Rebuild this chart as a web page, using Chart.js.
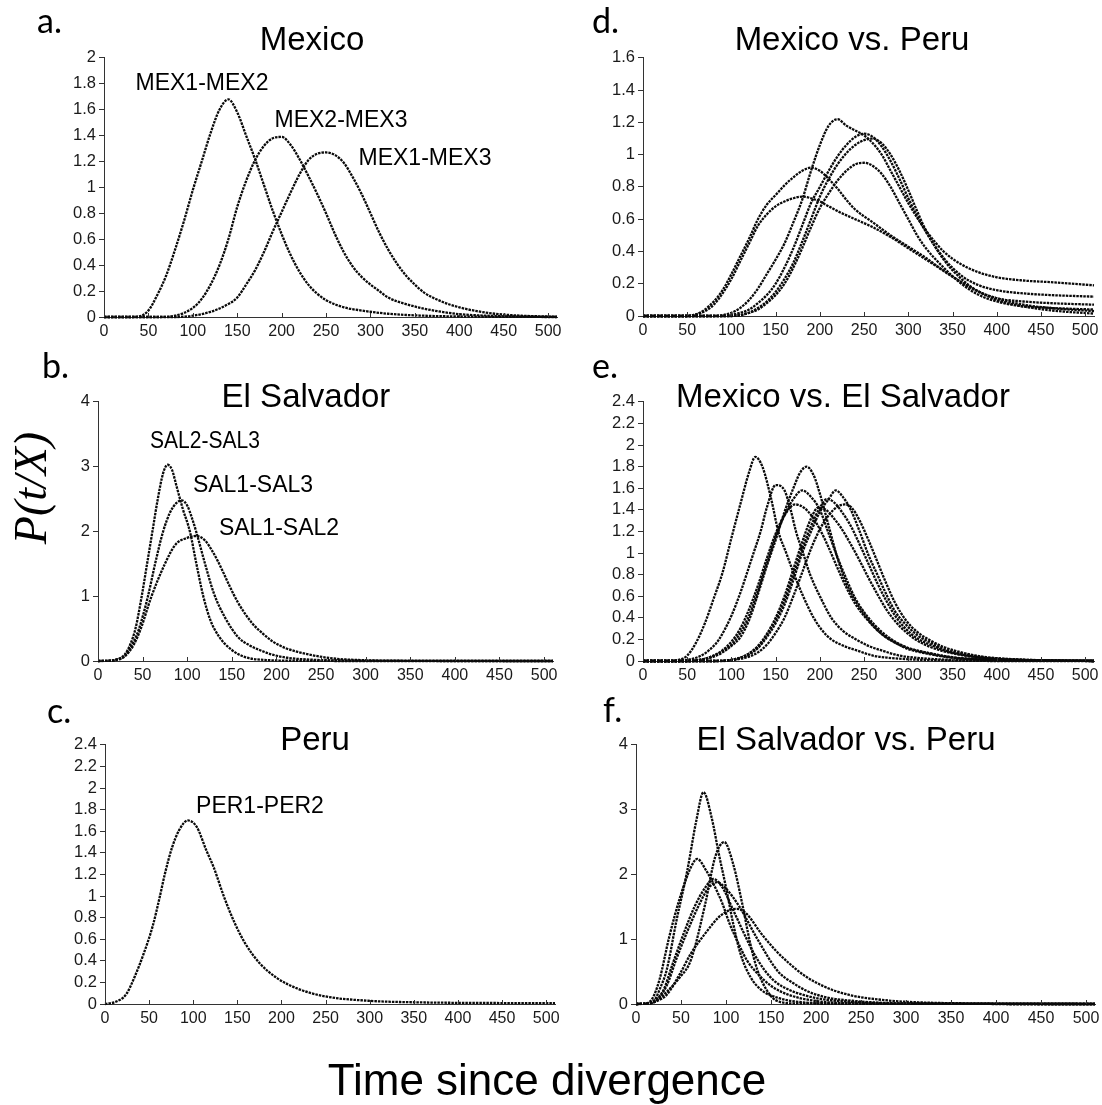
<!DOCTYPE html>
<html>
<head>
<meta charset="utf-8">
<script src="https://cdn.jsdelivr.net/npm/chart.js@4.4.1/dist/chart.umd.min.js"></script>
<style>
  html, body { margin: 0; padding: 0; background: #fff; }
  #fig { position: relative; width: 1102px; height: 1105px; overflow: hidden; background: #fff; }
  #fig canvas { position: absolute; }
  #txt { position: absolute; left: 0; top: 0; }
</style>
</head>
<body>
<div id="fig">
  <canvas id="pa"></canvas>
  <canvas id="pb"></canvas>
  <canvas id="pc"></canvas>
  <canvas id="pd"></canvas>
  <canvas id="pe"></canvas>
  <canvas id="pf"></canvas>
  <svg id="txt" width="1102" height="1105" font-family="'Liberation Sans', Arial, sans-serif" fill="#000">
    <g font-family="Lato, 'Open Sans', sans-serif" font-size="34">
      <text x="37" y="33">a.</text>
      <text x="42" y="378">b.</text>
      <text x="47" y="723">c.</text>
      <text x="592" y="33">d.</text>
      <text x="592" y="378">e.</text>
      <text x="603" y="722">f.</text>
    </g>
    <g font-size="33" text-anchor="middle">
      <text x="312" y="50">Mexico</text>
      <text x="306" y="407">El Salvador</text>
      <text x="315" y="750">Peru</text>
      <text x="852" y="50">Mexico vs. Peru</text>
      <text x="843" y="407">Mexico vs. El Salvador</text>
      <text x="846" y="750">El Salvador vs. Peru</text>
    </g>
    <g font-size="23" text-anchor="middle">
      <text x="202" y="90">MEX1-MEX2</text>
      <text x="341" y="127">MEX2-MEX3</text>
      <text x="425" y="165">MEX1-MEX3</text>
      <text x="205" y="448" textLength="110" lengthAdjust="spacingAndGlyphs">SAL2-SAL3</text>
      <text x="253" y="492">SAL1-SAL3</text>
      <text x="279" y="535">SAL1-SAL2</text>
      <text x="260" y="813">PER1-PER2</text>
    </g>
    <text transform="translate(46,488) rotate(-90)" text-anchor="middle"
          font-family="'Liberation Serif', 'DejaVu Serif', serif" font-style="italic" font-size="46">P(t/X)</text>
    <text x="547" y="1095" text-anchor="middle" font-size="44">Time since divergence</text>
  </svg>
</div>
<script>
// ---- axis ticks ----
const X_MAX = 510;
const xTicks = [0, 50, 100, 150, 200, 250, 300, 350, 400, 450, 500];
const yTicksA = [0, 0.2, 0.4, 0.6, 0.8, 1, 1.2, 1.4, 1.6, 1.8, 2];
const yTicksB = [0, 1, 2, 3, 4];
const yTicksC = [0, 0.2, 0.4, 0.6, 0.8, 1, 1.2, 1.4, 1.6, 1.8, 2, 2.2, 2.4];
const yTicksD = [0, 0.2, 0.4, 0.6, 0.8, 1, 1.2, 1.4, 1.6];
const yTicksE = [0, 0.2, 0.4, 0.6, 0.8, 1, 1.2, 1.4, 1.6, 1.8, 2, 2.2, 2.4];
const yTicksF = [0, 1, 2, 3, 4];

// ---- a. Mexico ----
const mex1mex2 = [[0,0],[30,0],[40,0.005],[50,0.05],[60,0.17],[70,0.32],[80,0.52],[90,0.74],[100,0.98],[110,1.2],[120,1.42],[130,1.6],[140,1.68],[150,1.58],[160,1.4],[170,1.22],[180,1.02],[190,0.82],[200,0.64],[210,0.48],[220,0.35],[230,0.25],[240,0.18],[250,0.13],[270,0.075],[290,0.05],[320,0.025],[360,0.01],[400,0.004],[450,0.001],[510,0]];
const mex2mex3 = [[0,0],[60,0],[80,0.01],[100,0.07],[110,0.14],[120,0.25],[130,0.4],[140,0.6],[150,0.85],[160,1.05],[170,1.21],[180,1.32],[190,1.38],[200,1.39],[210,1.33],[220,1.22],[230,1.09],[240,0.95],[250,0.8],[260,0.64],[270,0.5],[280,0.39],[290,0.31],[300,0.25],[310,0.2],[320,0.15],[340,0.1],[360,0.065],[380,0.04],[400,0.022],[430,0.01],[460,0.004],[510,0]];
const mex1mex3 = [[0,0],[80,0],[100,0.01],[120,0.04],[140,0.1],[150,0.15],[160,0.25],[170,0.36],[180,0.5],[190,0.66],[200,0.81],[210,0.96],[220,1.1],[230,1.21],[240,1.26],[250,1.27],[260,1.25],[270,1.19],[280,1.08],[290,0.95],[300,0.8],[310,0.65],[320,0.52],[330,0.41],[340,0.32],[350,0.25],[360,0.19],[380,0.12],[400,0.075],[420,0.045],[440,0.025],[470,0.01],[510,0.002]];

// ---- b. El Salvador ----
const sal2sal3 = [[0,0],[10,0.003],[20,0.02],[30,0.1],[36,0.25],[42,0.5],[49,1.0],[55,1.5],[61,2.0],[67,2.5],[73,2.9],[78,3.03],[83,2.95],[88,2.7],[95,2.35],[103,2.0],[110,1.52],[118,1.0],[126,0.63],[136,0.37],[150,0.17],[165,0.06],[189,0.015],[230,0.003],[300,0],[510,0]];
const sal1sal3 = [[0,0],[10,0.003],[20,0.02],[30,0.08],[40,0.3],[46,0.5],[56,1.0],[64,1.5],[73,2.0],[81,2.3],[88,2.44],[94,2.48],[100,2.4],[105,2.22],[110,2.0],[120,1.5],[130,1.04],[142,0.68],[157,0.37],[170,0.24],[181,0.17],[195,0.1],[212,0.05],[240,0.02],[280,0.006],[330,0.001],[510,0]];
const sal1sal2 = [[0,0],[10,0.002],[20,0.015],[30,0.07],[40,0.25],[48,0.5],[60,1.0],[75,1.5],[87,1.8],[100,1.9],[110,1.93],[120,1.86],[128,1.7],[134,1.55],[140,1.38],[146,1.2],[157,0.9],[173,0.58],[185,0.42],[196,0.3],[210,0.2],[224,0.14],[240,0.09],[263,0.04],[300,0.012],[350,0.003],[510,0]];

// ---- c. Peru ----
const per1per2 = [[0,0],[12,0.02],[24,0.09],[34,0.26],[44,0.47],[54,0.72],[62,0.99],[68,1.21],[76,1.45],[84,1.61],[94,1.7],[104,1.64],[115,1.42],[123,1.27],[135,0.99],[147,0.75],[159,0.56],[175,0.38],[195,0.24],[219,0.14],[250,0.07],[298,0.03],[357,0.015],[420,0.01],[510,0.008]];

// ---- d. Mexico vs. Peru ----
const mexPer1 = [[0,0],[50,0],[60,0.01],[70,0.03],[80,0.07],[90,0.14],[100,0.23],[110,0.34],[120,0.45],[130,0.56],[140,0.63],[150,0.68],[160,0.71],[170,0.73],[180,0.74],[190,0.73],[200,0.71],[210,0.68],[220,0.65],[240,0.6],[260,0.55],[280,0.49],[300,0.42],[320,0.35],[340,0.28],[360,0.21],[380,0.15],[400,0.1],[420,0.07],[440,0.05],[470,0.03],[510,0.015]];
const mexPer2 = [[0,0],[50,0],[60,0.01],[70,0.04],[80,0.09],[90,0.16],[100,0.26],[110,0.37],[120,0.48],[130,0.6],[140,0.69],[150,0.75],[160,0.81],[170,0.86],[180,0.9],[190,0.92],[200,0.9],[210,0.85],[220,0.79],[230,0.72],[240,0.66],[260,0.58],[280,0.5],[300,0.43],[320,0.36],[340,0.28],[360,0.21],[380,0.15],[400,0.11],[430,0.07],[460,0.05],[510,0.03]];
const mexPer3 = [[0,0],[80,0],[100,0.02],[110,0.05],[120,0.1],[130,0.17],[140,0.26],[150,0.35],[160,0.45],[170,0.58],[180,0.72],[190,0.9],[200,1.06],[210,1.18],[220,1.22],[230,1.18],[240,1.15],[250,1.12],[260,1.07],[270,1.0],[280,0.9],[290,0.8],[300,0.7],[310,0.61],[320,0.53],[340,0.4],[360,0.32],[380,0.27],[400,0.24],[430,0.22],[460,0.21],[510,0.19]];
const mexPer4 = [[0,0],[90,0],[110,0.02],[120,0.04],[130,0.08],[140,0.13],[150,0.2],[160,0.3],[170,0.42],[180,0.56],[190,0.7],[200,0.8],[210,0.9],[220,0.99],[230,1.06],[240,1.11],[250,1.13],[260,1.11],[270,1.05],[280,0.96],[290,0.85],[300,0.73],[310,0.62],[320,0.52],[340,0.36],[360,0.25],[380,0.19],[400,0.16],[430,0.14],[460,0.13],[510,0.12]];
const mexPer5 = [[0,0],[100,0],[120,0.02],[130,0.05],[140,0.09],[150,0.15],[160,0.23],[170,0.33],[180,0.46],[190,0.6],[200,0.74],[210,0.85],[220,0.94],[230,1.01],[240,1.06],[250,1.09],[260,1.1],[270,1.07],[280,1.0],[290,0.9],[300,0.78],[310,0.65],[320,0.53],[340,0.35],[360,0.23],[380,0.15],[400,0.11],[430,0.09],[460,0.08],[510,0.07]];
const mexPer6 = [[0,0],[100,0],[120,0.02],[130,0.04],[140,0.08],[150,0.13],[160,0.2],[170,0.3],[180,0.42],[190,0.55],[200,0.67],[210,0.76],[220,0.84],[230,0.9],[240,0.94],[250,0.95],[260,0.93],[270,0.88],[280,0.8],[290,0.7],[300,0.6],[310,0.5],[320,0.42],[340,0.3],[360,0.2],[380,0.13],[400,0.09],[430,0.06],[460,0.05],[510,0.04]];

// ---- e. Mexico vs. El Salvador ----
const mexSal1 = [[0,0],[30,0],[40,0.01],[50,0.05],[60,0.17],[70,0.35],[80,0.58],[90,0.82],[100,1.14],[110,1.45],[120,1.75],[127,1.89],[135,1.8],[145,1.5],[153,1.2],[162,1.0],[171,0.8],[180,0.62],[193,0.4],[203,0.28],[213,0.2],[227,0.14],[241,0.1],[260,0.05],[277,0.03],[310,0.012],[350,0.004],[400,0],[510,0]];
const mexSal2 = [[0,0],[40,0],[50,0.01],[60,0.03],[70,0.07],[80,0.14],[86,0.2],[100,0.42],[110,0.63],[117,0.8],[125,1.0],[133,1.2],[140,1.42],[150,1.63],[160,1.58],[167,1.4],[173,1.2],[181,1.0],[189,0.8],[200,0.6],[213,0.4],[226,0.28],[241,0.2],[255,0.14],[269,0.1],[290,0.05],[309,0.03],[350,0.01],[400,0.003],[510,0]];
const mexSal3 = [[0,0],[50,0],[70,0.02],[80,0.04],[90,0.08],[100,0.14],[110,0.22],[120,0.38],[130,0.62],[140,0.88],[150,1.12],[160,1.38],[170,1.6],[178,1.75],[185,1.8],[193,1.72],[200,1.55],[210,1.25],[220,0.95],[230,0.72],[240,0.56],[255,0.38],[270,0.25],[285,0.17],[300,0.12],[313,0.09],[330,0.06],[352,0.03],[400,0.01],[450,0.003],[510,0]];
const mexSal4 = [[0,0],[50,0],[70,0.02],[80,0.05],[90,0.09],[100,0.15],[110,0.26],[120,0.42],[130,0.65],[140,0.9],[150,1.15],[160,1.35],[170,1.5],[180,1.58],[190,1.52],[200,1.4],[210,1.18],[220,0.96],[230,0.76],[240,0.58],[255,0.4],[270,0.27],[285,0.18],[300,0.12],[320,0.08],[350,0.035],[400,0.01],[450,0.003],[510,0]];
const mexSal5 = [[0,0],[50,0],[70,0.02],[80,0.05],[90,0.1],[100,0.18],[110,0.3],[120,0.48],[130,0.7],[140,0.95],[150,1.18],[160,1.35],[172,1.45],[182,1.42],[192,1.33],[200,1.22],[210,1.05],[220,0.86],[230,0.68],[240,0.53],[255,0.37],[270,0.25],[285,0.17],[300,0.11],[320,0.07],[350,0.03],[400,0.01],[510,0]];
const mexSal6 = [[0,0],[80,0],[100,0.01],[110,0.03],[120,0.06],[130,0.12],[140,0.22],[150,0.35],[160,0.52],[170,0.75],[180,1.0],[190,1.2],[200,1.38],[210,1.5],[218,1.58],[226,1.52],[235,1.4],[245,1.2],[255,0.98],[265,0.8],[275,0.62],[285,0.46],[297,0.34],[310,0.24],[325,0.17],[340,0.11],[360,0.07],[384,0.035],[420,0.015],[460,0.005],[510,0.001]];
const mexSal7 = [[0,0],[80,0],[100,0.01],[110,0.03],[120,0.07],[130,0.13],[140,0.24],[150,0.38],[160,0.56],[170,0.8],[180,1.04],[190,1.25],[200,1.42],[208,1.5],[216,1.47],[225,1.38],[235,1.25],[245,1.08],[255,0.9],[265,0.72],[275,0.56],[285,0.42],[297,0.3],[310,0.21],[325,0.15],[340,0.1],[360,0.06],[384,0.03],[420,0.012],[460,0.004],[510,0]];
const mexSal8 = [[0,0],[80,0],[100,0.01],[110,0.03],[120,0.07],[130,0.14],[140,0.25],[150,0.4],[160,0.6],[170,0.85],[180,1.1],[190,1.32],[198,1.42],[207,1.4],[215,1.33],[225,1.22],[235,1.08],[245,0.93],[255,0.77],[265,0.62],[275,0.48],[285,0.37],[297,0.27],[310,0.19],[325,0.13],[340,0.09],[360,0.055],[384,0.03],[420,0.012],[460,0.004],[510,0]];
const mexSal9 = [[0,0],[90,0],[110,0.02],[120,0.04],[130,0.08],[140,0.15],[150,0.26],[160,0.4],[170,0.6],[180,0.82],[190,1.04],[200,1.22],[210,1.35],[220,1.43],[228,1.45],[236,1.42],[245,1.3],[255,1.12],[265,0.92],[275,0.72],[285,0.54],[297,0.38],[310,0.27],[325,0.19],[340,0.13],[360,0.08],[384,0.04],[420,0.016],[460,0.006],[510,0.001]];

// ---- f. El Salvador vs. Peru ----
const salPer1 = [[0,0],[10,0.003],[20,0.05],[27,0.25],[34,0.52],[45,1.29],[57,2.06],[67,2.83],[75,3.27],[84,2.88],[92,2.32],[100,1.8],[108,1.24],[116,0.78],[127,0.42],[139,0.22],[159,0.09],[186,0.025],[230,0.004],[510,0]];
const salPer2 = [[0,0],[10,0.002],[22,0.04],[35,0.2],[48,0.4],[61,0.68],[77,1.55],[88,2.27],[98,2.5],[108,2.16],[118,1.55],[127,0.93],[135,0.52],[145,0.22],[155,0.06],[175,0.01],[510,0]];
const salPer3 = [[0,0],[10,0.005],[18,0.08],[26,0.37],[37,1.04],[49,1.65],[61,2.11],[68,2.24],[78,2.06],[88,1.8],[96,1.55],[104,1.24],[114,0.93],[123,0.68],[135,0.47],[151,0.27],[170,0.14],[198,0.05],[237,0.01],[300,0.002],[510,0]];
const salPer4 = [[0,0],[10,0.005],[20,0.05],[30,0.2],[41,0.63],[53,1.09],[65,1.5],[77,1.8],[86,1.93],[96,1.8],[108,1.45],[120,1.09],[131,0.78],[143,0.52],[155,0.34],[170,0.22],[186,0.14],[209,0.07],[237,0.035],[276,0.01],[330,0.003],[510,0]];
const salPer5 = [[0,0],[10,0.004],[22,0.04],[34,0.14],[49,0.47],[61,0.78],[77,1.09],[92,1.34],[104,1.45],[112,1.47],[123,1.39],[139,1.09],[155,0.83],[170,0.63],[186,0.45],[209,0.27],[237,0.14],[276,0.06],[315,0.025],[373,0.01],[440,0.005],[510,0.003]];
const salPer6 = [[0,0],[10,0.004],[22,0.05],[34,0.28],[45,0.7],[57,1.12],[69,1.5],[80,1.78],[90,1.88],[100,1.78],[115,1.5],[135,1.0],[158,0.5],[175,0.32],[190,0.2],[212,0.1],[240,0.05],[280,0.015],[340,0.003],[510,0]];

// ---- drawing ----
const innerXTicks = {
  id: 'innerXTicks',
  afterDraw(chart) {
    const s = chart.scales.x, ctx = chart.ctx, b = chart.chartArea.bottom;
    ctx.save();
    ctx.strokeStyle = '#333';
    ctx.lineWidth = 1;
    s.ticks.forEach(t => {
      const x = Math.round(s.getPixelForValue(t.value)) + 0.5;
      ctx.beginPath();
      ctx.moveTo(x, b);
      ctx.lineTo(x, b - 4);
      ctx.stroke();
    });
    ctx.restore();
  }
};

function makePanel(id, box, yMax, yTicks, series) {
  const padTop = 12, padRight = 14, yW = 60, xH = 34;
  const left = Math.round(box.left), top = Math.round(box.top);
  const w = Math.round(box.left + box.pxPerUnit * X_MAX) - left;
  const h = Math.round(box.bottom) - top;
  const cv = document.getElementById(id);
  cv.width = w + yW + padRight;
  cv.height = h + padTop + xH;
  cv.style.left = (left - yW) + 'px';
  cv.style.top = (top - padTop) + 'px';
  const fam = "'Liberation Sans', Arial, sans-serif";
  new Chart(cv, {
    type: 'line',
    data: {
      datasets: series.map(s => ({
        data: s,
        borderColor: '#0a0a0a',
        borderWidth: 2.3,
        borderDash: [2.5, 1],
        pointRadius: 0,
        cubicInterpolationMode: 'monotone',
        clip: 4
      }))
    },
    options: {
      responsive: false,
      animation: false,
      devicePixelRatio: 1,
      events: [],
      layout: { padding: { top: padTop, right: padRight, left: 0, bottom: 0 } },
      plugins: { legend: { display: false }, tooltip: { enabled: false } },
      scales: {
        x: {
          type: 'linear', min: 0, max: X_MAX,
          afterBuildTicks: s => { s.ticks = xTicks.map(v => ({ value: v })); },
          afterFit: s => { s.height = xH; },
          grid: { display: false, drawTicks: false },
          border: { display: true, color: '#333', width: 1 },
          ticks: { color: '#1a1a1a', font: { family: fam, size: 16 }, padding: 5, maxRotation: 0, autoSkip: false,
                   callback: v => String(v) }
        },
        y: {
          type: 'linear', min: 0, max: yMax,
          afterBuildTicks: s => { s.ticks = yTicks.map(v => ({ value: v })); },
          afterFit: s => { s.width = yW; },
          grid: { display: true, drawOnChartArea: false, drawTicks: true, tickLength: 5, color: '#333' },
          border: { display: true, color: '#333', width: 1 },
          ticks: { color: '#1a1a1a', font: { family: fam, size: 16.5 }, padding: 3, autoSkip: false,
                   callback: v => String(v) }
        }
      }
    },
    plugins: [innerXTicks]
  });
}

makePanel('pa', { left: 103.5, top: 57, bottom: 317, pxPerUnit: 0.89 }, 2, yTicksA, [mex1mex2, mex2mex3, mex1mex3]);
makePanel('pb', { left: 97.5, top: 401, bottom: 661, pxPerUnit: 0.894 }, 4, yTicksB, [sal2sal3, sal1sal3, sal1sal2]);
makePanel('pc', { left: 104.5, top: 744, bottom: 1004, pxPerUnit: 0.884 }, 2.4, yTicksC, [per1per2]);
makePanel('pd', { left: 643, top: 57, bottom: 316, pxPerUnit: 0.884 }, 1.6, yTicksD, [mexPer1, mexPer2, mexPer3, mexPer4, mexPer5, mexPer6]);
makePanel('pe', { left: 643, top: 401, bottom: 661, pxPerUnit: 0.884 }, 2.4, yTicksE, [mexSal1, mexSal2, mexSal3, mexSal4, mexSal5, mexSal6, mexSal7, mexSal8, mexSal9]);
makePanel('pf', { left: 636, top: 744, bottom: 1004, pxPerUnit: 0.9 }, 4, yTicksF, [salPer1, salPer2, salPer3, salPer4, salPer5, salPer6]);
</script>
</body>
</html>
